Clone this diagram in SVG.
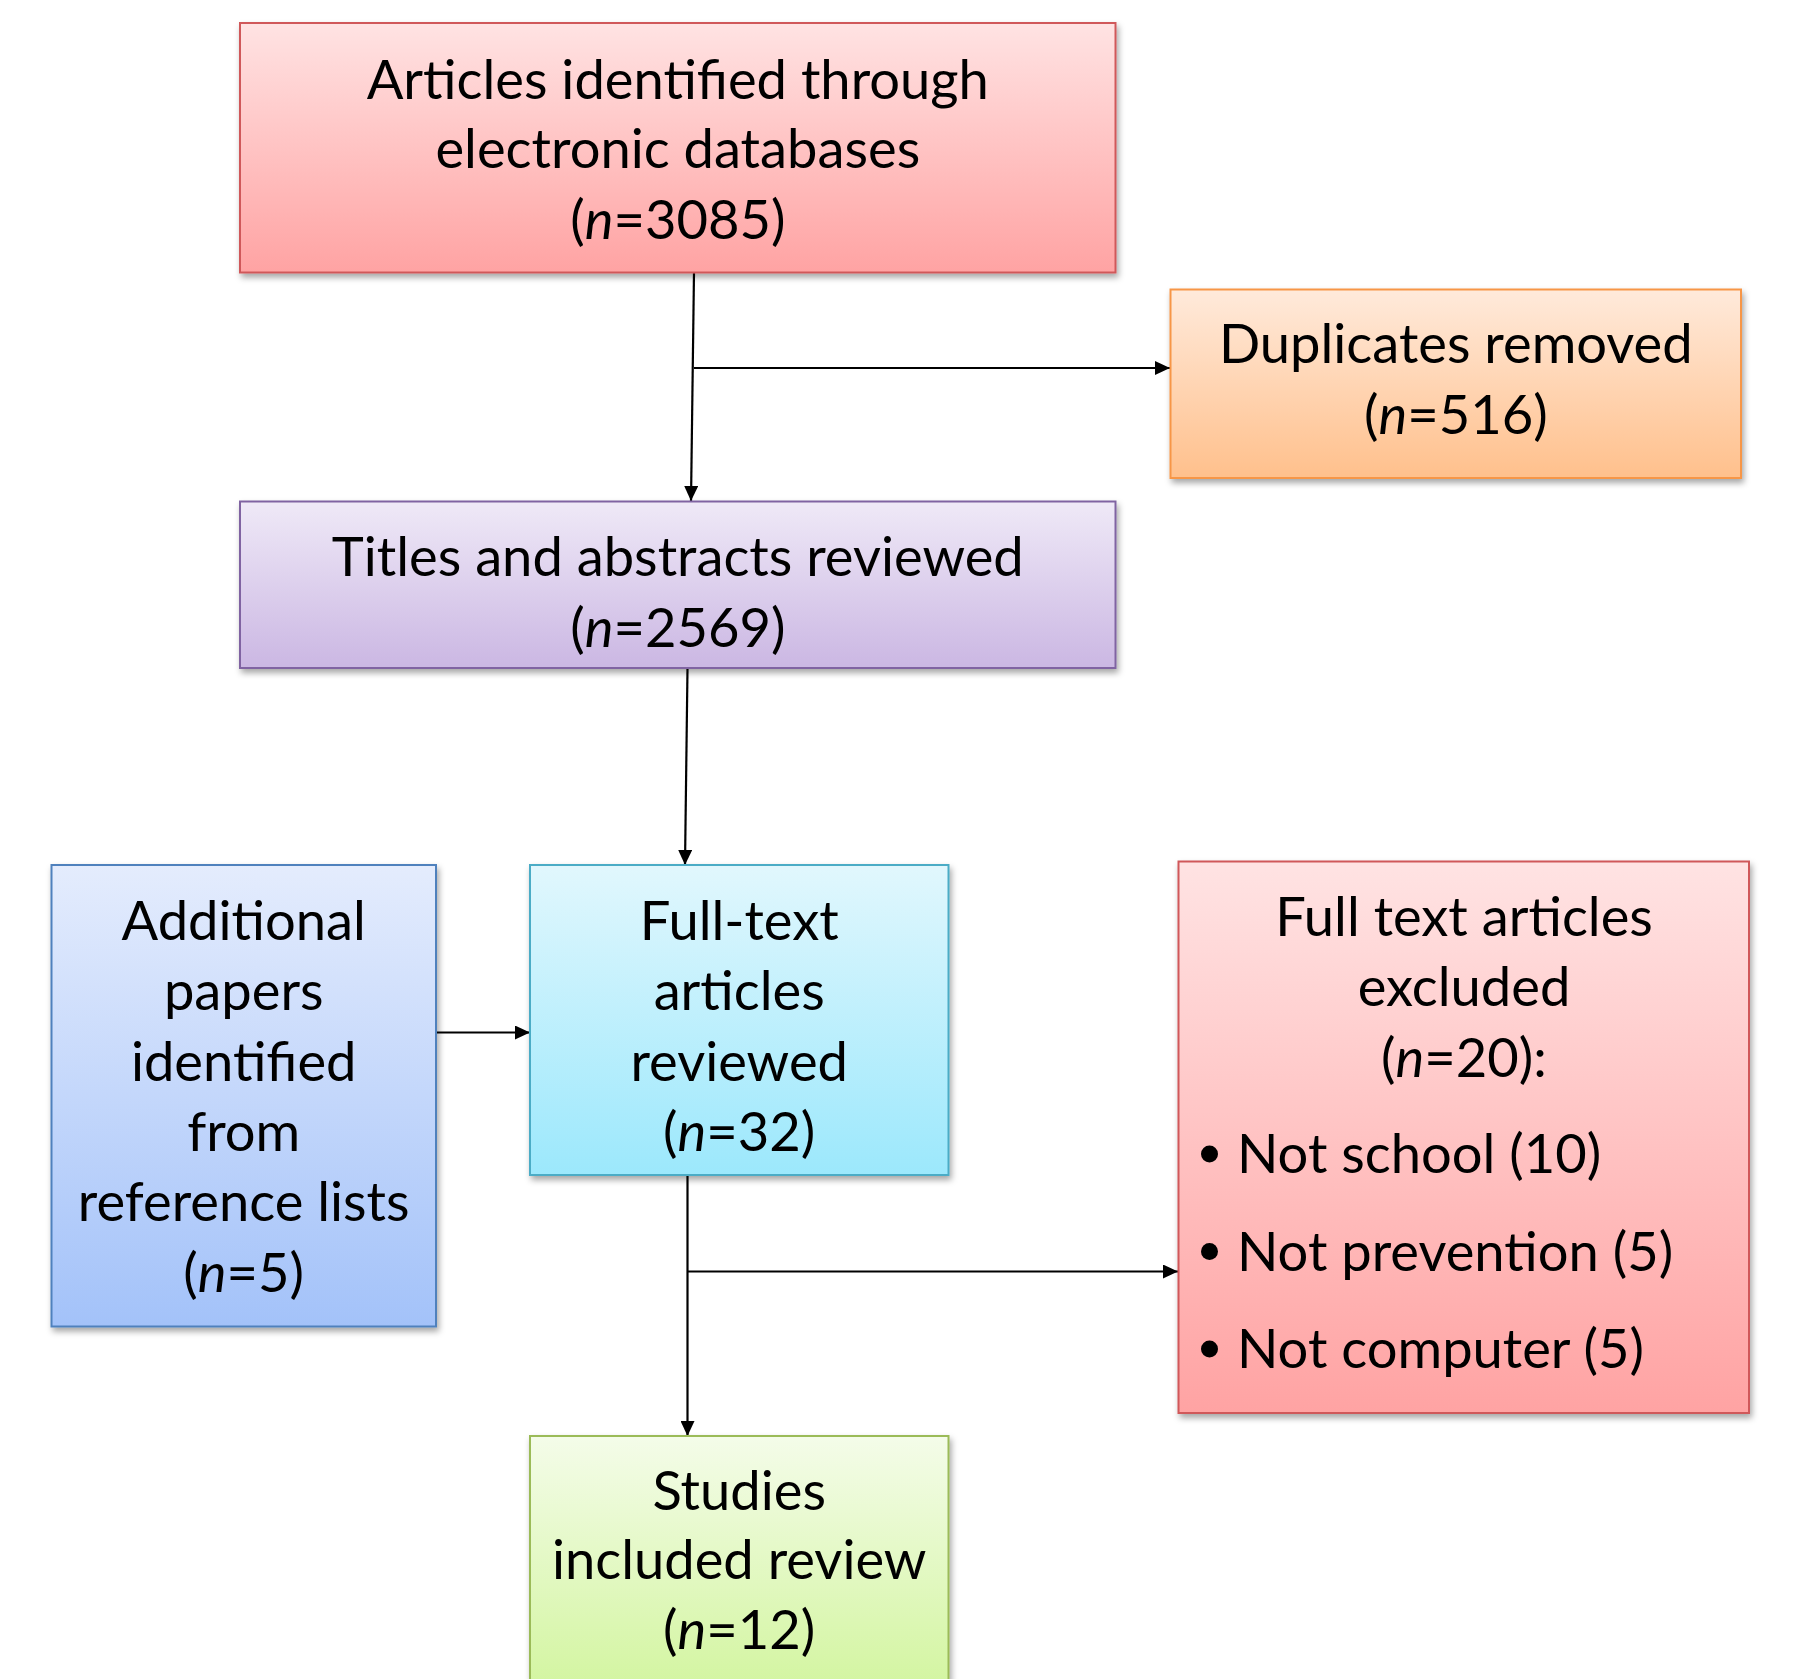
<svg xmlns="http://www.w3.org/2000/svg" width="1794" height="1679" viewBox="0 0 1794 1679">
<style>
.t{font-family:"Lato","Liberation Sans",sans-serif;font-size:54.3px;fill:#000;text-anchor:middle}
.b{font-family:"Lato","Liberation Sans",sans-serif;font-size:54.3px;fill:#000}
.i{font-style:italic}
.c{fill:none;stroke:#000;stroke-width:2.2}
</style>
<defs>
<filter id="sh" x="-5%" y="-5%" width="112%" height="115%">
<feDropShadow dx="2" dy="4" stdDeviation="3" flood-color="#000" flood-opacity="0.35"/>
</filter>
<linearGradient id="gRed" x1="0" y1="0" x2="0" y2="1"><stop offset="0" stop-color="#FFE3E3"/><stop offset="1" stop-color="#FFA3A3"/></linearGradient>
<linearGradient id="gOr" x1="0" y1="0" x2="0" y2="1"><stop offset="0" stop-color="#FFEADB"/><stop offset="1" stop-color="#FFC08C"/></linearGradient>
<linearGradient id="gPu" x1="0" y1="0" x2="0" y2="1"><stop offset="0" stop-color="#EFE9F7"/><stop offset="1" stop-color="#CBB7E3"/></linearGradient>
<linearGradient id="gBl" x1="0" y1="0" x2="0" y2="1"><stop offset="0" stop-color="#E4ECFD"/><stop offset="1" stop-color="#A3C2F9"/></linearGradient>
<linearGradient id="gCy" x1="0" y1="0" x2="0" y2="1"><stop offset="0" stop-color="#E1F7FD"/><stop offset="1" stop-color="#9CE8FC"/></linearGradient>
<linearGradient id="gGr" x1="0" y1="0" x2="0" y2="1"><stop offset="0" stop-color="#F4FCE9"/><stop offset="1" stop-color="#D2F59E"/></linearGradient>
<marker id="ah" viewBox="0 0 15 14" refX="15" refY="7" markerUnits="userSpaceOnUse" markerWidth="15" markerHeight="14" orient="auto">
<path d="M0,0 L15,7 L0,14 z" fill="#000"/>
</marker>
</defs>

<g id="connectors">
<path class="c" d="M694,272 L691,501" marker-end="url(#ah)"/>
<path class="c" d="M694,368 H1170" marker-end="url(#ah)"/>
<path class="c" d="M687.5,668 L685,865" marker-end="url(#ah)"/>
<path class="c" d="M436,1032.5 H530" marker-end="url(#ah)"/>
<path class="c" d="M687.5,1175 V1436" marker-end="url(#ah)"/>
<path class="c" d="M687.5,1271.5 H1178" marker-end="url(#ah)"/>
</g>

<g id="articles-identified">
<rect x="240" y="23" width="875.5" height="249.5" fill="url(#gRed)" stroke="#D0585A" stroke-width="2" filter="url(#sh)"/>
<text class="t" x="677.8" y="98.5">Articles identified through</text>
<text class="t" x="677.8" y="168">electronic databases</text>
<text class="t" x="677.8" y="238.5">(<tspan class="i">n</tspan>=3085)</text>
</g>

<g id="duplicates-removed">
<rect x="1170.5" y="289.5" width="570.5" height="188.5" fill="url(#gOr)" stroke="#F79646" stroke-width="2" filter="url(#sh)"/>
<text class="t" x="1455.8" y="363">Duplicates removed</text>
<text class="t" x="1455.8" y="433.5">(<tspan class="i">n</tspan>=516)</text>
</g>

<g id="titles-abstracts">
<rect x="240" y="501.5" width="875.5" height="166.5" fill="url(#gPu)" stroke="#8064A2" stroke-width="2" filter="url(#sh)"/>
<text class="t" x="677.8" y="576">Titles and abstracts reviewed</text>
<text class="t" x="677.8" y="646.5">(<tspan class="i">n</tspan>=2569)</text>
</g>

<g id="additional-papers">
<rect x="51.5" y="865" width="384.5" height="461.5" fill="url(#gBl)" stroke="#4F81BD" stroke-width="2" filter="url(#sh)"/>
<text class="t" x="243.7" y="939.5">Additional</text>
<text class="t" x="243.7" y="1010">papers</text>
<text class="t" x="243.7" y="1080.5">identified</text>
<text class="t" x="243.7" y="1151">from</text>
<text class="t" x="243.7" y="1221">reference lists</text>
<text class="t" x="243.7" y="1291.5">(<tspan class="i">n</tspan>=5)</text>
</g>

<g id="full-text-reviewed">
<rect x="530" y="865" width="418.5" height="310" fill="url(#gCy)" stroke="#4BACC6" stroke-width="2" filter="url(#sh)"/>
<text class="t" x="739.2" y="939.5">Full-text</text>
<text class="t" x="739.2" y="1010">articles</text>
<text class="t" x="739.2" y="1080.5">reviewed</text>
<text class="t" x="739.2" y="1151">(<tspan class="i">n</tspan>=32)</text>
</g>

<g id="full-text-excluded">
<rect x="1178.5" y="861.5" width="570.5" height="551.5" fill="url(#gRed)" stroke="#D0585A" stroke-width="2" filter="url(#sh)"/>
<text class="t" x="1464" y="935.5">Full text articles</text>
<text class="t" x="1464" y="1006">excluded</text>
<text class="t" x="1464" y="1076.5">(<tspan class="i">n</tspan>=20):</text>
<circle cx="1209.5" cy="1154" r="8.5"/>
<circle cx="1209.5" cy="1251.5" r="8.5"/>
<circle cx="1209.5" cy="1349" r="8.5"/>
<text class="b" x="1237" y="1173">Not school (10)</text>
<text class="b" x="1237" y="1270.5">Not prevention (5)</text>
<text class="b" x="1237" y="1368">Not computer (5)</text>
</g>

<g id="studies-included">
<rect x="530" y="1436" width="418.5" height="260" fill="url(#gGr)" stroke="#9BBB59" stroke-width="2" filter="url(#sh)"/>
<text class="t" x="739.2" y="1509.5">Studies</text>
<text class="t" x="739.2" y="1578.5">included review</text>
<text class="t" x="739.2" y="1648.5">(<tspan class="i">n</tspan>=12)</text>
</g>
</svg>
